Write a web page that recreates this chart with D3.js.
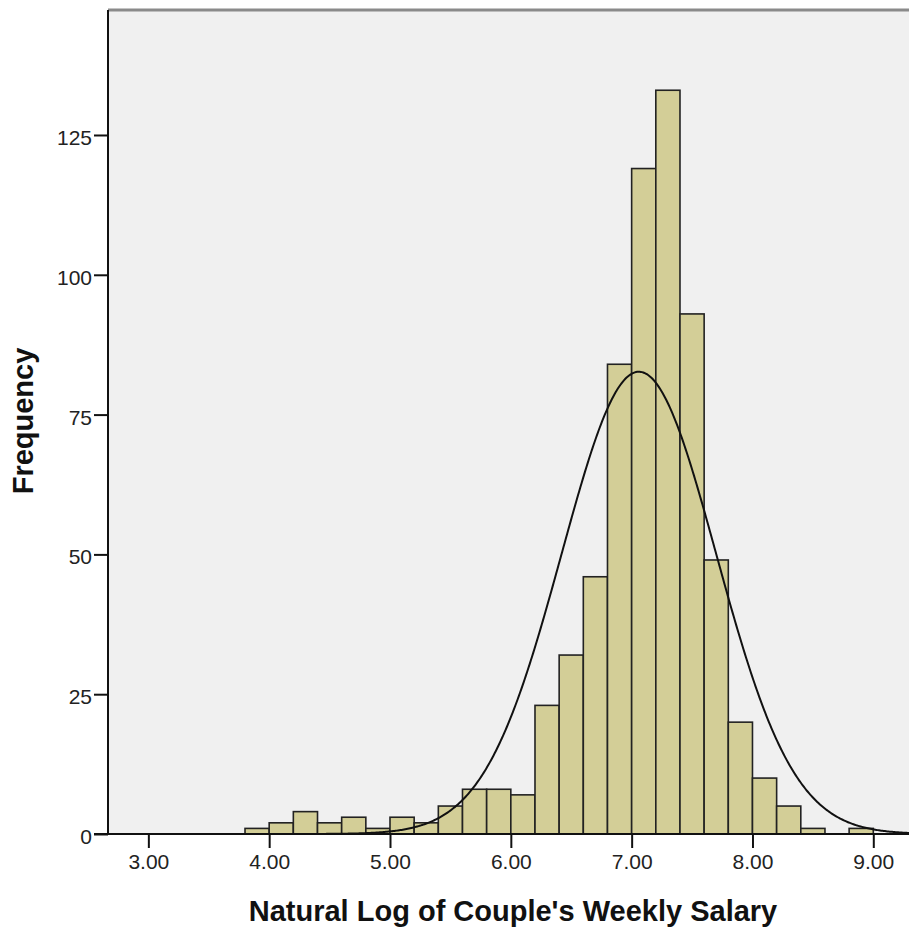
<!DOCTYPE html>
<html>
<head>
<meta charset="utf-8">
<script src="https://cdn.jsdelivr.net/npm/d3@7"></script>
<style>
  body { margin: 0; background: #fff; }
  svg { display: block; font-family: "Liberation Sans", Arial, sans-serif; }
</style>
</head>
<body>
<div id="Graph"></div>
<script>
// histogram bins (lower edge) and frequencies, bin width 0.2
const binLows = [3.8, 4.0, 4.2, 4.4, 4.6, 4.8, 5.0, 5.2, 5.4, 5.6, 5.8, 6.0, 6.2,
                 6.4, 6.6, 6.8, 7.0, 7.2, 7.4, 7.6, 7.8, 8.0, 8.2, 8.4, 8.6, 8.8];
const counts  = [1, 2, 4, 2, 3, 1, 3, 2, 5, 8, 8, 7, 23,
                 32, 46, 84, 119, 133, 93, 49, 20, 10, 5, 1, 0, 1];
const binWidth = 0.2;

// normal curve overlay
const curveMean = 7.06;
const curveSd = 0.639;

const xTicks = [3, 4, 5, 6, 7, 8, 9];
const yTicks = [0, 25, 50, 75, 100, 125];

const xTitle = "Natural Log of Couple's Weekly Salary";
const yTitle = "Frequency";

const width = 909, height = 932;
const plot = {left: 108, top: 10, right: 918, bottom: 834};

const svg = d3.select("#Graph").append("svg")
  .attr("width", width)
  .attr("height", height);

const x = d3.scaleLinear().domain([2.666, 9.37]).range([plot.left, plot.right]);
const y = d3.scaleLinear().domain([0, 147.35]).range([plot.bottom, plot.top]);

// plot background
svg.append("rect")
  .attr("x", plot.left)
  .attr("y", plot.top)
  .attr("width", plot.right - plot.left)
  .attr("height", plot.bottom - plot.top)
  .attr("fill", "#f0f0f0");

// top border
svg.append("line")
  .attr("x1", plot.left).attr("x2", plot.right)
  .attr("y1", plot.top).attr("y2", plot.top)
  .attr("stroke", "#8a8a8a")
  .attr("stroke-width", 3);

// bars
const n = d3.sum(counts);
svg.append("g")
  .selectAll("rect")
  .data(binLows.map((b, i) => ({lo: b, count: counts[i]})).filter(d => d.count > 0))
  .enter().append("rect")
  .attr("x", d => x(d.lo))
  .attr("y", d => y(d.count))
  .attr("width", d => x(d.lo + binWidth) - x(d.lo))
  .attr("height", d => y(0) - y(d.count))
  .attr("fill", "#d3ce97")
  .attr("stroke", "#222")
  .attr("stroke-width", 1.6);

// normal curve
const xs = d3.range(x.domain()[0], x.domain()[1], 0.01);
const curve = xs.map(v => [v, n * binWidth / (curveSd * Math.sqrt(2 * Math.PI)) *
                              Math.exp(-0.5 * Math.pow((v - curveMean) / curveSd, 2))]);
svg.append("path")
  .datum(curve)
  .attr("fill", "none")
  .attr("stroke", "#111")
  .attr("stroke-width", 2)
  .attr("d", d3.line().x(d => x(d[0])).y(d => y(d[1])));

// axes
const xAxis = svg.append("g")
  .attr("transform", `translate(0,${plot.bottom})`)
  .call(d3.axisBottom(x).tickValues(xTicks).tickSize(14).tickSizeOuter(0).tickPadding(6)
        .tickFormat(d3.format(".2f")));
const yAxis = svg.append("g")
  .attr("transform", `translate(${plot.left},0)`)
  .call(d3.axisLeft(y).tickValues(yTicks).tickSize(14).tickSizeOuter(0).tickPadding(2));

[xAxis, yAxis].forEach(a => {
  a.select(".domain").attr("stroke", "#111").attr("stroke-width", 2);
  a.selectAll(".tick line").attr("stroke", "#111").attr("stroke-width", 2);
  a.selectAll(".tick text")
    .attr("fill", "#222")
    .style("font-size", "21px")
    .style("font-family", "'Liberation Sans', Arial, sans-serif");
});
xAxis.select(".domain").attr("d", `M${plot.left - 14},0H${plot.right}`);
yAxis.select(".domain").attr("d", `M0,${plot.top}V${plot.bottom}`);
yAxis.selectAll(".tick text").attr("dy", "0.45em");

// titles
svg.append("text")
  .attr("x", 513)
  .attr("y", 921)
  .attr("text-anchor", "middle")
  .attr("font-weight", "bold")
  .attr("font-size", 29)
  .attr("fill", "#111")
  .text(xTitle);

svg.append("text")
  .attr("transform", "translate(33,421) rotate(-90)")
  .attr("text-anchor", "middle")
  .attr("font-weight", "bold")
  .attr("font-size", 29)
  .attr("fill", "#111")
  .text(yTitle);
</script>
</body>
</html>
